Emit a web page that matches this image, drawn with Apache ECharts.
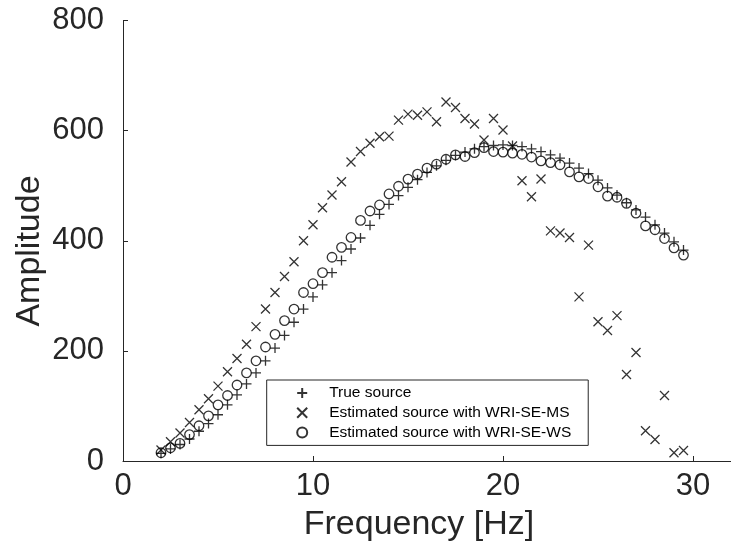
<!DOCTYPE html>
<html>
<head>
<meta charset="utf-8">
<script src="https://cdn.jsdelivr.net/npm/echarts@6/dist/echarts.min.js"></script>
<style>
html,body{margin:0;padding:0;background:#fff;}
#c{width:731px;height:557px;}
</style>
</head>
<body>
<div id="c"></div>
<script>
var freq = [2,2.5,3,3.5,4,4.5,5,5.5,6,6.5,7,7.5,8,8.5,9,9.5,10,10.5,11,11.5,12,12.5,13,13.5,14,14.5,15,15.5,16,16.5,17,17.5,18,18.5,19,19.5,20,20.5,21,21.5,22,22.5,23,23.5,24,24.5,25,25.5,26,26.5,27,27.5,28,28.5,29,29.5];
var trueSource = [14,22,30,40,54,68,84,102,120,140,160,182,205,228,252,276,298,320,342,364,385,405,428,448,466,482,497,511,524,536,546,555,561,567,571,573,574,573,571,567,562,556,550,541,532,522,510,496,483,469,456,443,429,414,398,383];
var estMS = [20,35,51,70,93,113,136,162,186,212,244,276,306,335,362,400,429,460,483,507,543,562,577,589,590,619,630,628,634,616,652,642,622,612,583,622,601,572,509,480,512,418,414,406,298,392,253,237,264,157,197,55,39,119,15,19];
var estWS = [15,24,32,48,64,82,102,119,138,160,182,207,230,255,276,306,322,342,370,388,406,437,454,465,485,499,512,521,532,539,548,556,553,560,569,562,561,559,557,552,545,542,538,525,516,513,498,481,479,468,450,427,420,404,387,374];
var seriesNames = ['True source','Estimated source with WRI-SE-MS','Estimated source with WRI-SE-WS'];
var xTicks = {min:0, max:32, interval:10};
var yTicks = {min:0, max:800, interval:200};

function pairs(ys){ return freq.map(function(f,i){ return [f, ys[i]]; }); }

var PLUS = 'path://M0,5L10,5M5,0L5,10';
var CROSS = 'path://M0,0L10,10M0,10L10,0';
var CIRC = 'path://M0,5A5,5,0,1,0,10,5A5,5,0,1,0,0,5Z';
var axisColor = '#262626';
var font = '"Liberation Sans", Arial, Helvetica, sans-serif';

var chart = echarts.init(document.getElementById('c'), null, {renderer:'canvas'});
chart.setOption({
  animation:false,
  backgroundColor:'#fff',
  grid:{left:123, top:20.5, width:609.6, height:440.5, containLabel:false},
  xAxis:{
    type:'value', min:xTicks.min, max:xTicks.max, interval:xTicks.interval,
    axisLine:{show:true, onZero:false, lineStyle:{color:axisColor, width:1}},
    axisTick:{show:true, inside:true, length:5, lineStyle:{color:axisColor, width:1}},
    axisLabel:{show:true, margin:10, color:axisColor, fontSize:31, fontFamily:font, showMaxLabel:false},
    splitLine:{show:false}
  },
  yAxis:{
    type:'value', min:yTicks.min, max:yTicks.max, interval:yTicks.interval,
    axisLine:{show:true, onZero:false, lineStyle:{color:axisColor, width:1}},
    axisTick:{show:true, inside:true, length:5, lineStyle:{color:axisColor, width:1}},
    axisLabel:{show:true, margin:19, color:axisColor, fontSize:31, fontFamily:font},
    splitLine:{show:false}
  },
  legend:{
    show:true, orient:'vertical', left:266.7, top:380,
    data:seriesNames,
    itemWidth:10, itemHeight:10, itemGap:3.7,
    padding:[5,17,5,28],
    backgroundColor:'#fff',
    borderColor:axisColor, borderWidth:1, borderRadius:0,
    textStyle:{color:'#000', fontSize:15.5, lineHeight:16, fontFamily:font, padding:[0,0,0,17]},
    selectedMode:false
  },
  graphic:[
    {type:'text', style:{text:'Frequency [Hz]', fill:axisColor, font:'34px ' + font, textAlign:'center', textVerticalAlign:'middle'}, x:419, y:525},
    {type:'text', style:{text:'Amplitude', fill:axisColor, font:'34px ' + font, textAlign:'center', textVerticalAlign:'middle'}, x:30, y:251, rotation:Math.PI/2}
  ],
  series:[
    {name:seriesNames[0], type:'scatter', data:pairs(trueSource), symbol:PLUS, symbolSize:10,
     itemStyle:{color:'none', borderColor:'#000', borderWidth:1.3}, z:3},
    {name:seriesNames[1], type:'scatter', data:pairs(estMS), symbol:CROSS, symbolSize:9,
     itemStyle:{color:'none', borderColor:'#000', borderWidth:1.3}, z:3},
    {name:seriesNames[2], type:'scatter', data:pairs(estWS), symbol:CIRC, symbolSize:9.5,
     itemStyle:{color:'none', borderColor:'#000', borderWidth:1.3}, z:3}
  ]
});
</script>
</body>
</html>
